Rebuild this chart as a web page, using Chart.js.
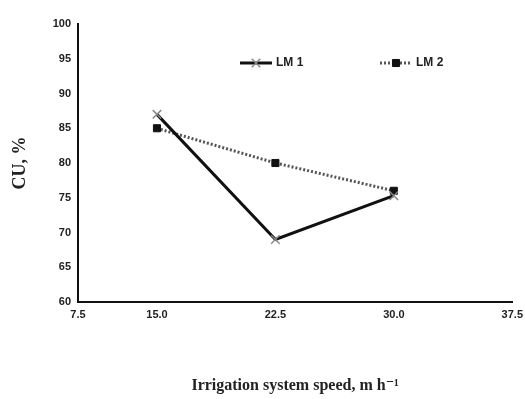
<!DOCTYPE html>
<html>
<head>
<meta charset="utf-8">
<script src="https://cdn.jsdelivr.net/npm/chart.js@4"></script>
<style>
  body { margin: 0; background: #fff; }
  #wrap { width: 525px; height: 399px; }
</style>
</head>
<body>
<div id="wrap"><canvas id="mycanvas"></canvas></div>
<script>
// values
var speeds = [15.0, 22.5, 30.0];
var lm1 = [87, 69, 75.3];
var lm2 = [85, 80, 76];
var xTickLabels = ['7.5', '15.0', '22.5', '30.0', '37.5'];
var xTickValues = [15.0, 22.5, 30.0, 37.5];

var tickFont = { family: "'Liberation Sans Narrow', 'Liberation Sans', sans-serif", size: 11, weight: 'bold' };

function pts(ys) {
	var out = [];
	for (var i in speeds) {
		out.push({ x: speeds[i], y: ys[i] });
	}
	return out;
}

// legend drawn by hand so it sits where the original one does
var legendPlugin = {
	id: 'handLegend',
	afterDraw: function(chart) {
		var ctx = chart.ctx;
		var items = [
			{ x: 240, text: 'LM 1', ds: chart.data.datasets[0] },
			{ x: 380, text: 'LM 2', ds: chart.data.datasets[1] }
		];
		var y = 63;
		ctx.save();
		items.forEach(function(it) {
			ctx.beginPath();
			ctx.lineWidth = it.ds.borderWidth;
			ctx.strokeStyle = it.ds.borderColor;
			ctx.setLineDash(it.ds.borderDash || []);
			ctx.moveTo(it.x, y);
			ctx.lineTo(it.x + 32, y);
			ctx.stroke();
			ctx.setLineDash([]);
			ctx.fillStyle = it.ds.pointBackgroundColor;
			ctx.strokeStyle = it.ds.pointBorderColor;
			ctx.lineWidth = it.ds.pointBorderWidth;
			Chart.helpers.drawPoint(ctx, { pointStyle: it.ds.pointStyle, radius: it.ds.pointRadius, borderWidth: it.ds.pointBorderWidth }, it.x + 16, y);
			ctx.fillStyle = '#222';
			ctx.font = "bold 12px 'Liberation Sans Narrow', 'Liberation Sans', sans-serif";
			ctx.textBaseline = 'middle';
			ctx.fillText(it.text, it.x + 36, y);
		});
		ctx.restore();
	}
};

var ctx = document.getElementById('mycanvas');

var lineGraph = new Chart(ctx, {
	type: 'line',
	data: {
		datasets: [
			{
				label: 'LM 1',
				data: pts(lm1),
				borderColor: '#111',
				borderWidth: 3,
				pointStyle: 'crossRot',
				pointRadius: 6,
				pointBorderColor: '#888',
				pointBackgroundColor: '#888',
				pointBorderWidth: 1.5,
				order: 1
			},
			{
				label: 'LM 2',
				data: pts(lm2),
				borderColor: '#555',
				borderWidth: 3,
				borderDash: [2, 2],
				pointStyle: 'rect',
				pointRadius: 5,
				pointBorderColor: '#111',
				pointBackgroundColor: '#111',
				pointBorderWidth: 1,
				order: 2
			}
		]
	},
	options: {
		responsive: true,
		maintainAspectRatio: false,
		animation: false,
		layout: { padding: { left: 0, right: 8, top: 24, bottom: 0 } },
		plugins: {
			legend: { display: false },
			tooltip: { enabled: false }
		},
		scales: {
			x: {
				type: 'linear',
				min: 10,
				max: 37.5,
				grid: { display: false, drawTicks: true, tickLength: 4, tickColor: '#111' },
				border: { color: '#111', width: 2 },
				afterBuildTicks: function(scale) {
					var t = [{ value: scale.min }];
					xTickValues.forEach(function(v) { t.push({ value: v }); });
					scale.ticks = t;
				},
				afterFit: function(scale) { scale.height = 97; },
				ticks: {
					color: '#222',
					font: tickFont,
					padding: 2,
					maxRotation: 0,
					callback: function(v, i) { return xTickLabels[i]; }
				},
				title: {
					display: true,
					text: 'Irrigation system speed, m h\u207B\u00B9',
					color: '#222',
					font: { family: "'Liberation Serif', 'DejaVu Serif', serif", size: 16, weight: 'bold' },
					padding: { top: 0, bottom: 4 }
				}
			},
			y: {
				min: 60,
				max: 100,
				grid: { display: false, drawTicks: true, tickLength: 4, tickColor: '#111' },
				border: { color: '#111', width: 2 },
				afterFit: function(scale) { scale.width = 78; },
				ticks: {
					stepSize: 5,
					color: '#222',
					font: tickFont,
					padding: 3
				},
				title: {
					display: true,
					text: 'CU, %',
					color: '#222',
					font: { family: "'Liberation Serif', 'DejaVu Serif', serif", size: 18, weight: 'bold' },
					padding: { top: 10, bottom: 0 }
				}
			}
		}
	},
	plugins: [legendPlugin]
});
</script>
</body>
</html>
